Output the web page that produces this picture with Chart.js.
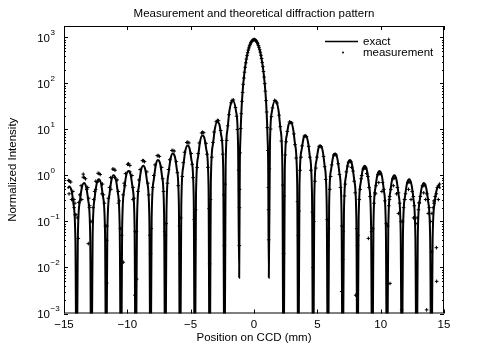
<!DOCTYPE html>
<html>
<head>
<meta charset="utf-8">
<script src="https://cdn.jsdelivr.net/npm/chart.js@4/dist/chart.umd.min.js"></script>
<style>
  html, body { margin: 0; padding: 0; background: #fff; }
  #wrap { width: 491px; height: 354px; }
</style>
</head>
<body>
<div id="wrap"><canvas id="c" width="491" height="354"></canvas></div>
<script>
// labels
const titleText = "Measurement and theoretical diffraction pattern";
const xLabel = "Position on CCD (mm)";
const yLabel = "Normalized Intensity";
const seriesNames = ["exact", "measurement"];
const xTicks = [-15, -10, -5, 0, 5, 10, 15];
const yDecades = [-3, -2, -1, 0, 1, 2, 3];

// exact curve: [position mm, intensity]
const exactPts = [
  [-14.70, 0.52], [-14.59, 0.58], [-14.41, 0.47], [-14.26, 0.25], [-14.10, 0.039], [-14.00, 1e-5],
  [-13.91, 0.040], [-13.75, 0.27], [-13.60, 0.53], [-13.42, 0.69], [-13.25, 0.56], [-13.09, 0.29], [-12.93, 0.046], [-12.84, 1e-5],
  [-12.74, 0.047], [-12.58, 0.32], [-12.43, 0.64], [-12.25, 0.83], [-12.08, 0.68], [-11.93, 0.36], [-11.76, 0.056], [-11.67, 1e-5],
  [-11.58, 0.057], [-11.41, 0.39], [-11.26, 0.78], [-11.09, 1.01], [-10.91, 0.83], [-10.76, 0.44], [-10.60, 0.069], [-10.50, 1e-5],
  [-10.41, 0.071], [-10.25, 0.48], [-10.10, 0.97], [-9.92, 1.26], [-9.74, 1.04], [-9.59, 0.55], [-9.43, 0.087], [-9.34, 1e-5],
  [-9.24, 0.09], [-9.08, 0.61], [-8.93, 1.24], [-8.75, 1.62], [-8.58, 1.34], [-8.43, 0.71], [-8.26, 0.11], [-8.17, 1e-5],
  [-8.08, 0.12], [-7.91, 0.81], [-7.76, 1.64], [-7.59, 2.16], [-7.41, 1.80], [-7.26, 0.96], [-7.10, 0.15], [-7.00, 1e-5],
  [-6.91, 0.16], [-6.75, 1.1], [-6.59, 2.27], [-6.42, 3.0], [-6.24, 2.53], [-6.09, 1.36], [-5.93, 0.22], [-5.84, 1e-5],
  [-5.74, 0.23], [-5.58, 1.6], [-5.43, 3.35], [-5.25, 4.5], [-5.08, 3.83], [-4.93, 2.1], [-4.76, 0.34], [-4.67, 1e-5],
  [-4.58, 0.37], [-4.41, 2.6], [-4.26, 5.43], [-4.08, 7.4], [-3.91, 6.45], [-3.76, 3.6], [-3.59, 0.6], [-3.50, 1e-5],
  [-3.41, 0.66], [-3.24, 4.8], [-3.09, 10.3], [-2.92, 14.6], [-2.74, 13.1], [-2.59, 7.5], [-2.43, 1.3], [-2.33, 1e-5],
  [-2.24, 1.5], [-2.10, 9.7], [-1.93, 26.6], [-1.67, 42.5], [-1.42, 25], [-1.26, 4.8],
  [-1.17, 0.006], [-1.12, 1.55], [-1.07, 6.7], [-1.00, 23], [-0.91, 61], [-0.75, 179],
  [-0.58, 365], [-0.45, 537], [-0.29, 729], [-0.15, 852], [0, 900],
  [0.15, 852], [0.29, 729], [0.45, 537], [0.58, 365], [0.75, 179], [0.91, 61],
  [1.00, 23], [1.07, 6.7], [1.12, 1.55], [1.17, 0.006],
  [1.26, 4.8], [1.42, 25], [1.67, 42.5], [1.93, 26.6], [2.10, 9.7], [2.24, 1.5], [2.33, 1e-5],
  [2.43, 1.3], [2.59, 7.5], [2.74, 13.1], [2.92, 14.6], [3.09, 10.3], [3.24, 4.8], [3.41, 0.66], [3.50, 1e-5],
  [3.59, 0.6], [3.76, 3.6], [3.91, 6.45], [4.08, 7.4], [4.26, 5.43], [4.41, 2.6], [4.58, 0.37], [4.67, 1e-5],
  [4.76, 0.34], [4.93, 2.1], [5.08, 3.83], [5.25, 4.5], [5.43, 3.35], [5.58, 1.6], [5.74, 0.23], [5.84, 1e-5],
  [5.93, 0.22], [6.09, 1.36], [6.24, 2.53], [6.42, 3.0], [6.59, 2.27], [6.75, 1.1], [6.91, 0.16], [7.00, 1e-5],
  [7.10, 0.15], [7.26, 0.96], [7.41, 1.80], [7.59, 2.16], [7.76, 1.64], [7.91, 0.81], [8.08, 0.12], [8.17, 1e-5],
  [8.26, 0.11], [8.43, 0.71], [8.58, 1.34], [8.75, 1.62], [8.93, 1.24], [9.08, 0.61], [9.24, 0.09], [9.34, 1e-5],
  [9.43, 0.087], [9.59, 0.55], [9.74, 1.04], [9.92, 1.26], [10.10, 0.97], [10.25, 0.48], [10.41, 0.071], [10.50, 1e-5],
  [10.60, 0.069], [10.76, 0.44], [10.91, 0.83], [11.09, 1.01], [11.26, 0.78], [11.41, 0.39], [11.58, 0.057], [11.67, 1e-5],
  [11.76, 0.056], [11.93, 0.36], [12.08, 0.68], [12.25, 0.83], [12.43, 0.64], [12.58, 0.32], [12.74, 0.047], [12.84, 1e-5],
  [12.93, 0.046], [13.09, 0.29], [13.25, 0.56], [13.42, 0.69], [13.60, 0.53], [13.75, 0.27], [13.91, 0.040], [14.00, 1e-5],
  [14.10, 0.039], [14.26, 0.25], [14.41, 0.47], [14.59, 0.58], [14.70, 0.52]
];

const measPts = [
  // central lobe
  [-1.16, 0.03], [-1.15, 0.2], [-1.14, 0.5], [-1.10, 3.1], [-1.05, 10.5], [-1.00, 22], [-0.95, 41],
  [-0.90, 64], [-0.85, 96], [-0.80, 132], [-0.75, 176], [-0.70, 225], [-0.65, 282], [-0.60, 340],
  [-0.55, 403], [-0.50, 466], [-0.45, 532], [-0.40, 595], [-0.35, 660], [-0.30, 712], [-0.25, 768],
  [-0.20, 808], [-0.15, 848], [-0.10, 872], [-0.05, 890], [0, 905], [0.05, 898], [0.10, 885],
  [0.15, 856], [0.20, 826], [0.25, 776], [0.30, 728], [0.35, 668], [0.40, 610], [0.45, 541],
  [0.50, 480], [0.55, 410], [0.60, 350], [0.65, 288], [0.70, 232], [0.75, 182], [0.80, 138],
  [0.85, 99], [0.90, 68], [0.95, 42.5], [1.00, 24], [1.05, 11], [1.10, 3.5], [1.14, 0.55],
  [1.15, 0.18], [1.16, 0.04],
  // left lobes
  [-1.21, 1.3], [-1.31, 10], [-1.38, 19.5], [-1.46, 30], [-1.63, 44], [-1.73, 43], [-1.81, 38], [-1.98, 21], [-2.08, 12], [-2.16, 5.8], [-2.28, 0.65],
  [-2.38, 0.38], [-2.47, 2.9], [-2.54, 5.8], [-2.63, 9.5], [-2.80, 15.5], [-2.89, 15.8], [-2.98, 14.8], [-3.15, 8.8], [-3.24, 5.2], [-3.33, 2.5], [-3.44, 0.3],
  [-3.55, 0.19], [-3.64, 1.5], [-3.71, 2.9], [-3.79, 5.0], [-3.97, 8.5], [-4.06, 8.7], [-4.14, 8.4], [-4.32, 5.1], [-4.41, 3.0], [-4.49, 1.5], [-4.61, 0.18],
  [-4.72, 0.11], [-4.81, 0.9], [-4.88, 1.75], [-4.96, 3.0], [-5.14, 5.1], [-5.23, 5.3], [-5.31, 5.2], [-5.49, 3.2], [-5.58, 1.9], [-5.66, 0.95], [-5.78, 0.12],
  [-5.88, 0.08], [-5.98, 0.6], [-6.05, 1.15], [-6.13, 2.0], [-6.30, 3.4], [-6.40, 3.5], [-6.48, 3.5], [-6.65, 2.2], [-6.75, 1.35], [-6.83, 0.68], [-6.94, 0.09],
  [-7.05, 0.06], [-7.14, 0.45], [-7.21, 0.85], [-7.29, 1.5], [-7.47, 2.6], [-7.56, 2.7], [-7.64, 2.7], [-7.82, 1.7], [-7.91, 1.0], [-7.99, 0.55], [-8.11, 0.07],
  [-8.22, 0.05], [-8.31, 0.38], [-8.38, 0.68], [-8.46, 1.2], [-8.64, 2.0], [-8.73, 2.1], [-8.81, 2.1], [-8.99, 1.35], [-9.08, 0.8], [-9.16, 0.45], [-9.28, 0.06],
  [-9.38, 0.06], [-9.48, 0.32], [-9.55, 0.55], [-9.63, 1.0], [-9.80, 1.65], [-9.90, 1.8], [-9.98, 1.75], [-10.15, 1.1], [-10.25, 0.68], [-10.33, 0.38], [-10.45, 0.05],
  [-10.55, 0.07], [-10.64, 0.28], [-10.71, 0.45], [-10.80, 0.8], [-10.97, 1.3], [-11.06, 1.37], [-11.15, 1.38], [-11.32, 0.9], [-11.41, 0.55], [-11.50, 0.32], [-11.61, 0.08],
  [-11.72, 0.08], [-11.81, 0.25], [-11.88, 0.38], [-11.96, 0.65], [-12.14, 1.05], [-12.23, 1.1], [-12.31, 1.12], [-12.49, 0.75], [-12.58, 0.45], [-12.66, 0.3], [-12.78, 0.1],
  [-12.88, 0.1], [-12.98, 0.22], [-13.05, 0.32], [-13.13, 0.55], [-13.30, 0.85], [-13.40, 0.9], [-13.48, 0.92], [-13.65, 0.6], [-13.75, 0.38], [-13.83, 0.26], [-13.95, 0.12],
  [-14.05, 0.14], [-14.14, 0.25], [-14.21, 0.3], [-14.30, 0.45], [-14.47, 0.72], [-14.56, 0.76], [-14.65, 0.78],
  // right lobes
  [1.21, 1.4], [1.31, 10.2], [1.38, 19], [1.46, 29.5], [1.63, 43], [1.73, 41], [1.81, 37.5], [1.98, 20.5], [2.08, 11.5], [2.16, 5.6], [2.28, 0.62],
  [2.38, 0.36], [2.47, 2.8], [2.54, 5.4], [2.63, 9.1], [2.80, 14.6], [2.89, 14.2], [2.98, 13.9], [3.15, 8.0], [3.24, 4.7], [3.33, 2.4], [3.44, 0.27],
  [3.55, 0.17], [3.64, 1.3], [3.71, 2.5], [3.79, 4.4], [3.97, 7.2], [4.06, 7.2], [4.14, 7.0], [4.32, 4.3], [4.41, 2.5], [4.49, 1.3], [4.61, 0.16],
  [4.72, 0.1], [4.81, 0.75], [4.88, 1.45], [4.96, 2.5], [5.14, 4.3], [5.23, 4.3], [5.31, 4.2], [5.49, 2.6], [5.58, 1.55], [5.66, 0.82], [5.78, 0.11],
  [5.88, 0.07], [5.98, 0.5], [6.05, 0.95], [6.13, 1.7], [6.30, 2.8], [6.40, 2.85], [6.48, 2.8], [6.65, 1.8], [6.75, 1.05], [6.83, 0.55], [6.94, 0.08],
  [7.05, 0.06], [7.14, 0.36], [7.21, 0.65], [7.29, 1.2], [7.47, 1.95], [7.56, 2.0], [7.64, 2.0], [7.82, 1.25], [7.91, 0.75], [7.99, 0.42], [8.11, 0.07],
  [8.22, 0.05], [8.31, 0.3], [8.38, 0.5], [8.46, 0.85], [8.64, 1.4], [8.73, 1.45], [8.81, 1.45], [8.99, 0.95], [9.08, 0.55], [9.16, 0.35], [9.28, 0.06],
  [9.38, 0.07], [9.48, 0.25], [9.55, 0.42], [9.63, 0.6], [9.80, 1.05], [9.90, 1.1], [9.98, 1.1], [10.15, 0.7], [10.25, 0.5], [10.33, 0.28], [10.45, 0.09],
  [10.55, 0.08], [10.64, 0.22], [10.71, 0.35], [10.80, 0.5], [10.97, 0.85], [11.06, 0.88], [11.15, 0.9], [11.32, 0.55], [11.41, 0.42], [11.50, 0.25], [11.61, 0.1],
  [11.72, 0.1], [11.81, 0.2], [11.88, 0.3], [11.96, 0.4], [12.14, 0.7], [12.23, 0.72], [12.31, 0.72], [12.49, 0.45], [12.58, 0.35], [12.66, 0.22], [12.78, 0.09],
  [12.88, 0.12], [12.98, 0.18], [13.05, 0.26], [13.13, 0.35], [13.30, 0.6], [13.40, 0.6], [13.48, 0.62], [13.65, 0.4], [13.75, 0.3], [13.83, 0.2], [13.95, 0.1],
  [14.05, 0.15], [14.14, 0.2], [14.21, 0.25], [14.30, 0.35], [14.47, 0.55], [14.56, 0.6], [14.65, 0.65],
  // scatter inside the outer lobes
  [7.40, 1.6], [7.70, 1.5], [8.50, 1.0], [8.90, 1.1], [9.60, 0.4], [9.85, 0.7], [10.10, 0.45],
  [10.70, 0.3], [11.00, 0.6], [11.25, 0.4], [11.40, 0.15], [11.90, 0.3], [12.20, 0.5], [12.40, 0.3],
  [12.60, 0.12], [13.05, 0.25], [13.40, 0.42], [13.55, 0.3], [13.75, 0.15], [14.20, 0.28], [14.40, 0.4],
  [14.55, 0.3],
  [-14.60, 0.4], [-14.40, 0.3], [-14.20, 0.2], [-13.60, 0.3], [-13.48, 1.07], [-13.20, 0.5], [-13.00, 0.2],
  [-12.50, 0.5], [-12.30, 0.75], [-12.00, 0.4], [-12.70, 0.2], [-11.30, 0.5], [-11.00, 0.9], [-10.70, 0.25],
  [-10.20, 0.6], [-9.80, 1.2], [-9.55, 0.3],
  // low outliers
  [6.92, 0.003], [8.03, 0.0025], [10.55, 0.0044], [11.66, 0.0012], [13.63, 0.0012], [14.42, 0.005],
  [10.74, 0.0045], [14.03, 0.022], [14.40, 0.027], [9.03, 0.043],
  [-9.40, 0.0025], [-11.63, 0.0046], [-13.08, 0.033], [-13.87, 0.043], [-9.26, 0.0056], [-10.32, 0.013],
  [-11.63, 0.039], [-14.13, 0.14],
  // samples close to the zeros
  [2.34, 0.02], [3.50, 0.05], [4.67, 0.01], [5.84, 0.03], [7.00, 0.015], [8.17, 0.03],
  [-2.34, 0.03], [-3.50, 0.012], [-4.67, 0.04], [-5.84, 0.02], [-7.00, 0.05], [-8.17, 0.02]
];

const FONT = "'Liberation Sans', Arial, Helvetica, sans-serif";
const toXY = pts => pts.map(p => ({ x: p[0], y: p[1] }));
const minus = v => (v < 0 ? "\u2212" + Math.abs(v) : String(v));

// title, box, inside ticks, 10^n labels and legend like the matlab figure
const frame = {
  id: "frame",
  afterDraw(chart) {
    const { ctx, chartArea: a, scales: { x, y } } = chart;
    ctx.save();
    ctx.fillStyle = "#000";
    ctx.font = "11.5px " + FONT;
    ctx.textAlign = "center";
    ctx.textBaseline = "middle";
    ctx.fillText(titleText, (a.left + a.right) / 2, a.top - 12);

    ctx.strokeStyle = "#000";
    ctx.lineWidth = 1;
    ctx.strokeRect(a.left + 0.5, a.top + 0.5, a.right - a.left - 1, a.bottom - a.top - 1);

    ctx.beginPath();
    xTicks.forEach(v => {
      const px = Math.round(x.getPixelForValue(v)) + 0.5;
      ctx.moveTo(px, a.bottom); ctx.lineTo(px, a.bottom - 4);
      ctx.moveTo(px, a.top); ctx.lineTo(px, a.top + 4);
    });
    yDecades.forEach(d => {
      for (let m = 1; m < 10; m++) {
        const v = m * Math.pow(10, d);
        if (v > y.max) break;
        const py = Math.round(y.getPixelForValue(v)) + 0.5;
        const len = m === 1 ? 4 : 2;
        ctx.moveTo(a.left, py); ctx.lineTo(a.left + len, py);
        ctx.moveTo(a.right, py); ctx.lineTo(a.right - len, py);
      }
    });
    ctx.stroke();

    yDecades.forEach(d => {
      const py = y.getPixelForValue(Math.pow(10, d));
      ctx.font = "11.5px " + FONT;
      ctx.textAlign = "right";
      ctx.fillText("10", a.left - 14, py + 1);
      ctx.font = "8px " + FONT;
      ctx.textAlign = "left";
      ctx.fillText(minus(d), a.left - 13.5, py - 5);
    });

    // legend
    const lx = a.right - 119, ly = a.top + 15.5;
    ctx.lineWidth = 1.5;
    ctx.beginPath();
    ctx.moveTo(lx, ly); ctx.lineTo(lx + 33, ly);
    ctx.stroke();
    ctx.beginPath();
    ctx.arc(lx + 18, ly + 11, 1, 0, Math.PI * 2);
    ctx.fill();
    ctx.font = "11.5px " + FONT;
    ctx.textAlign = "left";
    ctx.fillText(seriesNames[0], lx + 38, ly);
    ctx.fillText(seriesNames[1], lx + 38, ly + 11);
    ctx.restore();
  }
};

new Chart(document.getElementById("c"), {
  type: "scatter",
  data: {
    datasets: [
      {
        label: seriesNames[1],
        data: toXY(measPts),
        showLine: false,
        pointStyle: "cross",
        pointRadius: 1.8,
        borderColor: "#000",
        borderWidth: 1,
        order: 1
      },
      {
        label: seriesNames[0],
        data: toXY(exactPts),
        showLine: true,
        borderColor: "#000",
        borderWidth: 2,
        pointRadius: 0,
        cubicInterpolationMode: "monotone",
        fill: false,
        order: 2
      }
    ]
  },
  options: {
    responsive: false,
    animation: false,
    layout: { padding: { left: 0, right: 47, top: 26, bottom: 0 } },
    plugins: {
      legend: { display: false },
      tooltip: { enabled: false },
      title: { display: false }
    },
    scales: {
      x: {
        type: "linear",
        min: -15,
        max: 15,
        grid: { display: false, drawTicks: false },
        border: { display: false },
        ticks: {
          stepSize: 5,
          padding: 4,
          maxRotation: 0,
          color: "#000",
          font: { family: FONT, size: 11.5 },
          callback: v => minus(v)
        },
        title: {
          display: true,
          text: xLabel,
          color: "#000",
          font: { family: FONT, size: 11.5 },
          padding: { top: 0, bottom: 9 }
        },
        afterFit: s => { s.height = 40.5; }
      },
      y: {
        type: "logarithmic",
        min: 0.001,
        max: 1778,
        grid: { display: false, drawTicks: false },
        border: { display: false },
        ticks: { display: false },
        title: {
          display: true,
          text: yLabel,
          color: "#000",
          font: { family: FONT, size: 11.5 },
          padding: { top: 6, bottom: 0 }
        },
        afterFit: s => { s.width = 64; }
      }
    }
  },
  plugins: [frame]
});
</script>
</body>
</html>
